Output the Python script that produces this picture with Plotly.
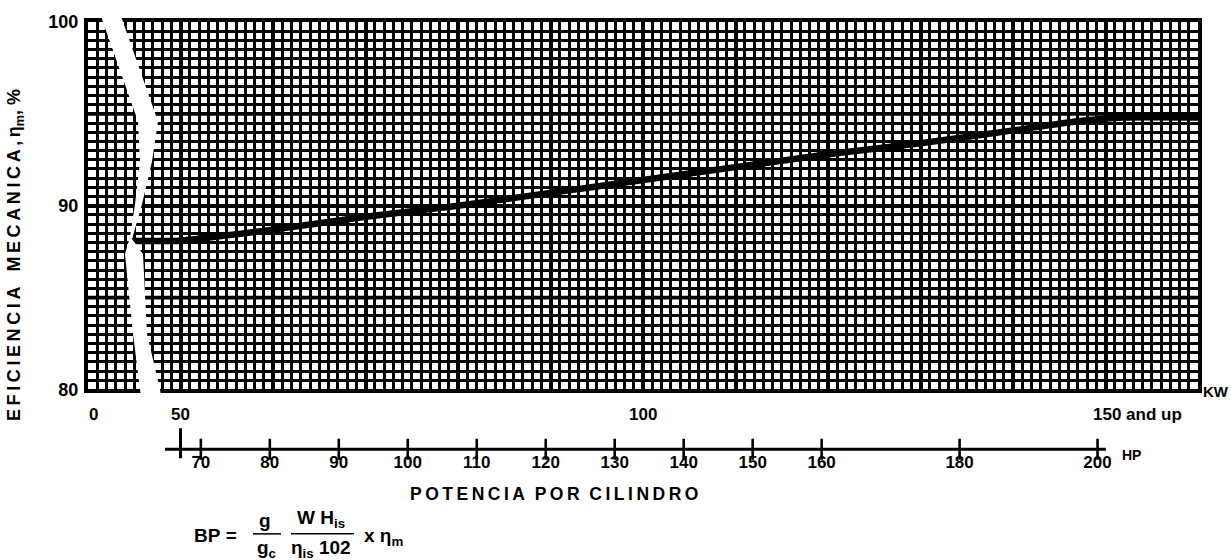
import plotly.graph_objects as go

# ---------------- data ----------------
kw = [44.5, 50, 60, 70, 80, 90, 100, 110, 120, 130, 140, 147, 152, 160]
eff = [88.1, 88.1, 88.7, 89.4, 90.0, 90.7, 91.4, 92.1, 92.8, 93.4, 94.1, 94.6, 94.8, 94.8]

kw_range = [40, 160]
eff_range = [80, 100]
kw_major = list(range(40, 161, 10))
eff_ticks = [80, 90, 100]
eff_ticktext = ["80", "90", "100"]
eff_major_extra = [85, 95]

kw_labels_x = [50, 100]
kw_labels_text = ["50", "100"]

HP_PER_KW = 1 / 0.7457
hp_ticks = [70, 80, 90, 100, 110, 120, 130, 140, 150, 160, 180, 200]
hp_ticktext = [str(v) for v in hp_ticks]
hp_line = [64.8, 201.2]
hp_at_50kw = 50 * HP_PER_KW

# ---------------- layout geometry ----------------
W, H = 1231, 560
L, R, T, B = 88, 1198, 20, 500          # paper area in pixels
PW, PH = R - L, B - T


def px(x):
    return (x - L) / PW


def py(y):
    return (B - y) / PH


FONT = "Liberation Sans, Arial, sans-serif"

fig = go.Figure()

# efficiency curve
fig.add_trace(go.Scatter(
    x=kw, y=eff, mode="lines", xaxis="x", yaxis="y",
    line=dict(color="black", width=6.5, shape="spline", smoothing=0.5),
    hoverinfo="skip"))

# HP scale
fig.add_trace(go.Scatter(
    x=hp_line, y=[0, 0], mode="lines", xaxis="x2", yaxis="y2",
    line=dict(color="black", width=3), hoverinfo="skip"))
fig.add_trace(go.Scatter(
    x=hp_ticks, y=[0] * len(hp_ticks), mode="markers", xaxis="x2", yaxis="y2",
    marker=dict(symbol="line-ns", size=15, line=dict(color="black", width=2.6)),
    hoverinfo="skip"))
fig.add_trace(go.Scatter(
    x=[hp_at_50kw, hp_at_50kw], y=[-0.45, 1.05], mode="lines", xaxis="x2", yaxis="y2",
    line=dict(color="black", width=3), hoverinfo="skip"))
fig.add_trace(go.Scatter(
    x=hp_ticks, y=[-0.72] * len(hp_ticks), mode="text", xaxis="x2", yaxis="y2",
    text=hp_ticktext, textposition="middle center",
    textfont=dict(family=FONT, size=17, color="black", weight="bold"),
    hoverinfo="skip"))

grid_major = dict(showgrid=True, gridcolor="black", zeroline=False,
                  showline=True, mirror=True, linecolor="black", linewidth=4,
                  ticks="")

fig.update_layout(
    width=W, height=H,
    margin=dict(l=L, r=W - R, t=T, b=H - B),
    plot_bgcolor="white", paper_bgcolor="white",
    showlegend=False,
    xaxis=dict(domain=[0, 1], anchor="y", range=kw_range,
               tickmode="array", tickvals=kw_major, showticklabels=False,
               gridwidth=4,
               minor=dict(dtick=1, tick0=0, showgrid=True, gridcolor="black", gridwidth=2.9),
               **grid_major),
    yaxis=dict(domain=[py(389), 1], anchor="x", range=eff_range,
               tickmode="array", tickvals=eff_ticks, ticktext=eff_ticktext,
               tickfont=dict(family=FONT, size=18, color="black", weight="bold"),
               ticklabelstandoff=2,
               gridwidth=3.6,
               minor=dict(dtick=0.5, tick0=0, showgrid=True, gridcolor="black", gridwidth=2.9),
               **grid_major),
    xaxis2=dict(domain=[0, 1], anchor="y2",
                range=[kw_range[0] * HP_PER_KW, kw_range[1] * HP_PER_KW],
                visible=False),
    yaxis2=dict(domain=[py(479), py(419)], anchor="x2", range=[-1.5, 1.5],
                visible=False),
)

# heavier grid lines at 85 % and 95 %
for yv in eff_major_extra:
    fig.add_shape(type="line", xref="x", yref="y", x0=kw_range[0], x1=kw_range[1],
                  y0=yv, y1=yv, line=dict(color="black", width=3.6), layer="below")

# break in the x axis (white zig-zag gap)
left_edge = [(101, 14), (103, 20), (138, 120), (140, 160), (135, 203), (130, 236),
             (125, 253), (133, 333), (140, 389), (141, 395)]
right_edge = [(161, 395), (160, 389), (147, 333), (143, 253), (132, 238), (142, 203),
              (152, 160), (158, 120), (123, 20), (121, 14)]
pts = left_edge + right_edge
path = "M " + " L ".join(f"{px(x):.5f},{py(y):.5f}" for x, y in pts) + " Z"
fig.add_shape(type="path", path=path, xref="paper", yref="paper",
              fillcolor="white", line=dict(color="white", width=0), layer="above")

ann_font = dict(family=FONT, size=17, color="black", weight="bold")

# KW labels
fig.add_annotation(x=px(93), y=py(414), xref="paper", yref="paper", text="0",
                   showarrow=False, font=ann_font, xanchor="center", yanchor="middle")
for xv, tx in zip(kw_labels_x, kw_labels_text):
    fig.add_annotation(x=xv, y=py(414), xref="x", yref="paper", text=tx,
                       showarrow=False, font=ann_font, xanchor="center", yanchor="middle")
fig.add_annotation(x=150, y=py(414), xref="x", yref="paper", text="150 and up",
                   showarrow=False, font=ann_font, xanchor="left", yanchor="middle",
                   xshift=-15)
fig.add_annotation(x=px(1202), y=py(391), xref="paper", yref="paper", text="KW",
                   showarrow=False, font=dict(family=FONT, size=15, color="black", weight="bold"),
                   xanchor="left", yanchor="middle", borderpad=0)

# HP label
fig.add_annotation(x=px(1120), y=py(455), xref="paper", yref="paper", text="HP",
                   showarrow=False, font=dict(family=FONT, size=14, color="black", weight="bold"),
                   xanchor="left", yanchor="middle")

TS = "\u2009"
NB = "\u00a0"


def spaced(s, gap=NB + NB):
    return gap.join(TS.join(w) for w in s.split(" "))


# x title
fig.add_annotation(x=px(554), y=py(494), xref="paper", yref="paper",
                   text=spaced("POTENCIA POR CILINDRO"),
                   showarrow=False, font=dict(family=FONT, size=17.5, color="black", weight="bold"),
                   xanchor="center", yanchor="middle")

# y title
fig.add_annotation(x=px(15), y=py(254), xref="paper", yref="paper",
                   text=spaced("EFICIENCIA MECANICA,", NB + NB + NB) + TS + "η<sub>m</sub>," + NB + "%",
                   textangle=-90, showarrow=False,
                   font=dict(family=FONT, size=18, color="black", weight="bold"),
                   xanchor="center", yanchor="middle")

# formula
ffont = dict(family=FONT, size=19, color="black", weight="bold")
bar_y = 534
fig.add_annotation(x=px(192), y=py(536), xref="paper", yref="paper", text="BP" + NB + "=",
                   showarrow=False, font=ffont, xanchor="left", yanchor="middle")
fig.add_annotation(x=px(265), y=py(bar_y - 1), xref="paper", yref="paper", text="g",
                   showarrow=False, font=ffont, xanchor="center", yanchor="bottom")
fig.add_annotation(x=px(266), y=py(bar_y + 1), xref="paper", yref="paper", text="g<sub>c</sub>",
                   showarrow=False, font=ffont, xanchor="center", yanchor="top")
fig.add_annotation(x=px(321), y=py(bar_y - 1), xref="paper", yref="paper", text="W" + NB + "H<sub>is</sub>",
                   showarrow=False, font=ffont, xanchor="center", yanchor="bottom")
fig.add_annotation(x=px(321), y=py(bar_y + 1), xref="paper", yref="paper", text="η<sub>is</sub>" + NB + "102",
                   showarrow=False, font=ffont, xanchor="center", yanchor="top")
fig.add_annotation(x=px(362), y=py(537), xref="paper", yref="paper", text="x" + NB + "η<sub>m</sub>",
                   showarrow=False, font=ffont, xanchor="left", yanchor="middle")
for x0, x1 in [(253, 281), (291, 354)]:
    fig.add_shape(type="line", xref="paper", yref="paper",
                  x0=px(x0), x1=px(x1), y0=py(bar_y), y1=py(bar_y),
                  line=dict(color="black", width=1.5))

fig.write_html("out.html")
